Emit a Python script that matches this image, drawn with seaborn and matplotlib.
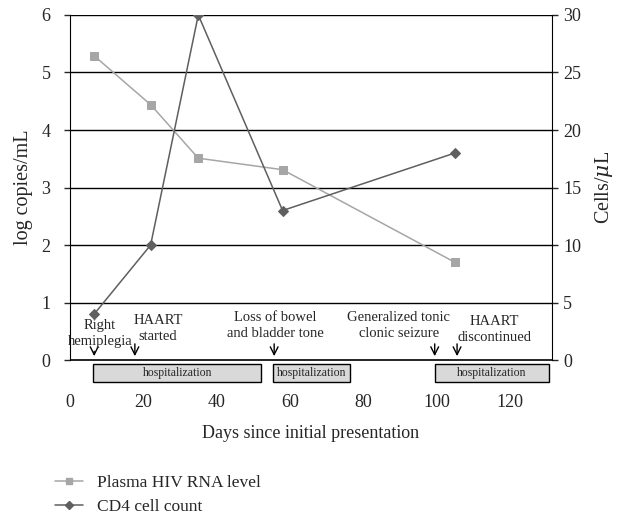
import numpy as np
import pandas as pd
import matplotlib
matplotlib.use("Agg")
import matplotlib.pyplot as plt
import seaborn as sns
from matplotlib.patches import Rectangle
from matplotlib.lines import Line2D

# --- data
days = [6.6, 22, 35, 58, 105]
hiv_rna = [5.29, 4.44, 3.51, 3.31, 1.70]   # log copies/mL
cd4 = [4, 10, 30, 13, 18]                   # cells/uL

event_days = [6.6, 17.7, 55.7, 99.5, 105.6]
event_labels = ["Right\nhemiplegia", "HAART\nstarted", "Loss of bowel\nand bladder tone",
                "Generalized tonic\nclonic seizure", "HAART\ndiscontinued"]
label_days = [8.2, 24, 56, 89.7, 115.8]
label_top = [0.72, 0.80, 0.86, 0.86, 0.78]
arrow_top = [0.2, 0.33, 0.33, 0.33, 0.33]

hosp_start = [6.4, 55.4, 99.5]
hosp_end = [52.2, 76.5, 130.8]

sns.set_style("white")
plt.rcParams['font.family'] = ['Liberation Serif', 'DejaVu Serif']
plt.rcParams['mathtext.fontset'] = 'dejavuserif'

light = "#a6a6a6"
dark = "#5f5f5f"

fig = plt.figure(figsize=(6.21, 5.16), dpi=100)
ax = fig.add_axes([0.1127, 0.252, 0.7762, 0.719])
ax2 = ax.twinx()

df = pd.DataFrame({"day": days, "hiv": hiv_rna, "cd4": cd4})

sns.lineplot(data=df, x="day", y="hiv", ax=ax, color=light, marker="s", markersize=6,
             markeredgecolor=light, linewidth=1.1, zorder=3)
sns.lineplot(data=df, x="day", y="cd4", ax=ax2, color=dark, marker="D", markersize=5,
             markeredgecolor=dark, linewidth=1.1, zorder=3)

ax.set_xlim(0, 131.5)
ax.set_ylim(-0.45, 6)
ax2.set_ylim(-2.25, 30)

for v in range(1, 7):
    ax.axhline(v, color="black", linewidth=1.0, zorder=1)
ax.axhline(0, color="black", linewidth=1.2, zorder=1)

ax.set_yticks(range(0, 7))
ax2.set_yticks(range(0, 31, 5))
ax.set_xticks(range(0, 121, 20))

for a in (ax, ax2):
    a.spines["top"].set_visible(False)
    a.spines["bottom"].set_visible(False)
for a in (ax, ax2):
    a.spines["left"].set_bounds(0, 6 if a is ax else 30)
    a.spines["right"].set_bounds(0, 6 if a is ax else 30)
    a.spines["left"].set_color("black")
    a.spines["right"].set_color("black")
ax.spines["right"].set_visible(False)
ax2.spines["left"].set_visible(False)

ax.tick_params(axis="y", direction="out", length=4, width=1, labelsize=13, pad=10, left=True)
ax2.tick_params(axis="y", direction="out", length=4, width=1, labelsize=13, pad=4, right=True)
ax.tick_params(axis="x", length=0, labelsize=13, pad=6)

ax.set_xlabel("Days since initial presentation", fontsize=13, labelpad=10)
ax.set_ylabel("log copies/mL", fontsize=14.5)
ax2.set_ylabel("Cells/$\\mu$L", fontsize=14.5, rotation=90)
ax.yaxis.set_label_coords(-0.077, 0.535)
ax2.yaxis.set_label_coords(1.0855, 0.535)

# hospitalization bars
for s, e in zip(hosp_start, hosp_end):
    ax.add_patch(Rectangle((s, -0.38), e - s, 0.31, facecolor="#d9d9d9",
                           edgecolor="black", linewidth=1.0, clip_on=False, zorder=4))
    ax.text((s + e) / 2, -0.225, "hospitalization", ha="center", va="center",
            fontsize=8.5, zorder=5)

# event arrows and labels
for d, lab, ld, lt, at in zip(event_days, event_labels, label_days, label_top, arrow_top):
    ax.annotate("", xy=(d, 0.02), xytext=(d, at),
                arrowprops=dict(arrowstyle="->", color="black", lw=1.0,
                                mutation_scale=14), zorder=5)
    ax.text(ld, lt, lab, ha="center", va="top", fontsize=10.5, linespacing=1.3, zorder=5)

handles = [Line2D([0], [0], color=light, marker="s", markersize=5, lw=1.1),
           Line2D([0], [0], color=dark, marker="D", markersize=4, lw=1.1)]
fig.legend(handles, ["Plasma HIV RNA level", "CD4 cell count"], loc="upper left",
           bbox_to_anchor=(0.075, 0.097), frameon=False, fontsize=12.5,
           handlelength=1.6, labelspacing=0.45, borderpad=0, handletextpad=0.8)

fig.savefig("out.png", dpi=100)
